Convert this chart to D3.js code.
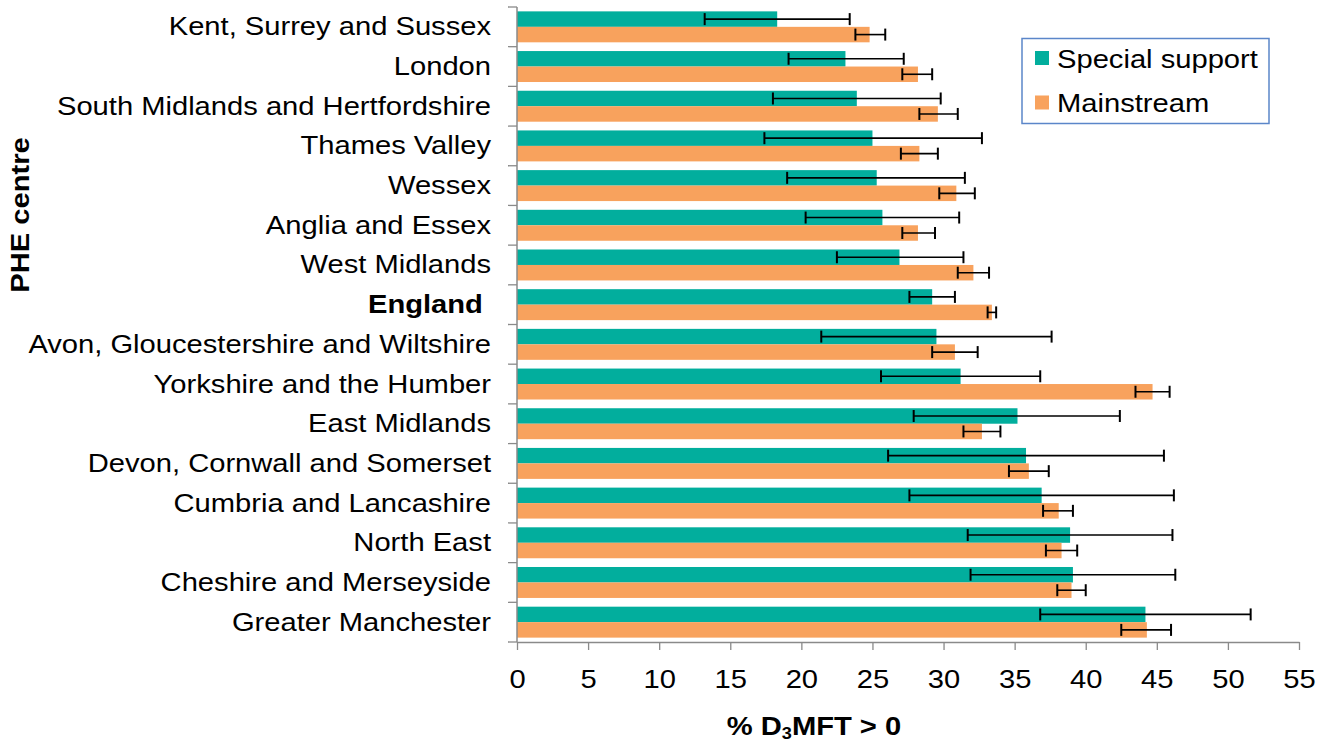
<!DOCTYPE html>
<html><head><meta charset="utf-8">
<script src="https://cdn.jsdelivr.net/npm/d3@7"></script>
<style>
body{margin:0;background:#fff;}
svg{display:block;font-family:"Liberation Sans",Arial,sans-serif;}
</style></head><body>
<svg id="chart" width="1330" height="744"></svg>
<script>
const categories = ["Kent, Surrey and Sussex","London","South Midlands and Hertfordshire","Thames Valley","Wessex","Anglia and Essex","West Midlands","England ","Avon, Gloucestershire and Wiltshire","Yorkshire and the Humber","East Midlands","Devon, Cornwall and Somerset","Cumbria and Lancashire","North East","Cheshire and Merseyside","Greater Manchester"];
const seriesNames = ["Special support","Mainstream"];
const special     = [18.3, 23.1, 23.9, 25.0, 25.3, 25.7, 26.9, 29.2, 29.5, 31.2, 35.2, 35.8, 36.9, 38.9, 39.1, 44.2];
const specialLow  = [13.2, 19.1, 18.0, 17.4, 19.0, 20.3, 22.5, 27.6, 21.4, 25.6, 27.9, 26.1, 27.6, 31.7, 31.9, 36.8];
const specialHigh = [23.4, 27.2, 29.8, 32.7, 31.5, 31.1, 31.4, 30.8, 37.6, 36.8, 42.4, 45.5, 46.2, 46.1, 46.3, 51.6];
const mainstream  = [24.8, 28.2, 29.6, 28.3, 30.9, 28.2, 32.1, 33.4, 30.8, 44.7, 32.7, 36.0, 38.1, 38.3, 39.0, 44.3];
const mainLow     = [23.8, 27.1, 28.3, 27.0, 29.7, 27.1, 31.0, 33.1, 29.2, 43.5, 31.4, 34.6, 37.0, 37.2, 38.0, 42.5];
const mainHigh    = [25.9, 29.2, 31.0, 29.6, 32.2, 29.4, 33.2, 33.7, 32.4, 45.9, 34.0, 37.4, 39.1, 39.4, 40.0, 46.0];
const xTicks = [0,5,10,15,20,25,30,35,40,45,50,55];
const boldCategory = "England ";

const colors = ["#02AE9D", "#F8A25D"];
const axisGray = "#8a8a8a";
const FS = 26.5, SX = 1.1;

const svg = d3.select("#chart");
const x = d3.scaleLinear().domain([0,55]).range([517,1299]);
const y = d3.scaleBand().domain(categories).range([7,642]).paddingInner(0.22).paddingOuter(0.11);
const ySub = d3.scaleBand().domain(seriesNames).range([0, y.bandwidth()]);

const rows = categories.map((c,i)=>({cat:c, vals:[
  {s:seriesNames[0], v:special[i], lo:specialLow[i], hi:specialHigh[i]},
  {s:seriesNames[1], v:mainstream[i], lo:mainLow[i], hi:mainHigh[i]}
]}));

// bars
const g = svg.append("g");
const rowG = g.selectAll("g.row").data(rows).join("g").attr("class","row")
  .attr("transform", d=>`translate(0,${y(d.cat)})`);
rowG.selectAll("rect").data(d=>d.vals).join("rect")
  .attr("x", x(0)).attr("y", d=>ySub(d.s)).attr("height", ySub.bandwidth())
  .attr("width", d=>x(d.v)-x(0)).attr("fill",(d,i)=>colors[i]);

// error bars
const eb = rowG.selectAll("g.eb").data(d=>d.vals).join("g").attr("class","eb")
  .attr("transform", d=>`translate(0,${ySub(d.s)+ySub.bandwidth()/2})`);
eb.append("line").attr("x1",d=>x(d.lo)).attr("x2",d=>x(d.hi)).attr("y1",0).attr("y2",0)
  .attr("stroke","#000").attr("stroke-width",1.6);
eb.append("line").attr("x1",d=>x(d.lo)).attr("x2",d=>x(d.lo)).attr("y1",-6).attr("y2",6)
  .attr("stroke","#000").attr("stroke-width",2);
eb.append("line").attr("x1",d=>x(d.hi)).attr("x2",d=>x(d.hi)).attr("y1",-6).attr("y2",6)
  .attr("stroke","#000").attr("stroke-width",2);

// x axis
const xAxis = svg.append("g").attr("transform",`translate(0,642)`)
  .call(d3.axisBottom(x).tickValues(xTicks).tickSize(8).tickPadding(19).tickSizeOuter(0));
xAxis.select(".domain").attr("stroke",axisGray).attr("stroke-width",1.5);
xAxis.selectAll(".tick line").attr("stroke",axisGray).attr("stroke-width",1.3);
xAxis.selectAll(".tick text").attr("font-size",FS).attr("fill","#000")
  .attr("font-family","'Liberation Sans',Arial,sans-serif")
  .attr("transform",`scale(${SX},1)`).attr("x",0);

// y axis (labels)
const yAxis = svg.append("g").attr("transform",`translate(517,0)`)
  .call(d3.axisLeft(y).tickSize(0).tickPadding(26));
yAxis.select(".domain").remove();
yAxis.selectAll(".tick text").attr("font-size",FS).attr("fill","#000")
  .attr("font-family","'Liberation Sans',Arial,sans-serif")
  .attr("x", -26/SX).attr("transform",`scale(${SX},1)`)
  .style("white-space","pre")
  .attr("font-weight", d=> d===boldCategory ? "bold" : "normal");
// y axis line and boundary ticks
const step = y.step();
const bounds = d3.range(categories.length+1).map(i=> 7 + i*step);
svg.append("line").attr("x1",517).attr("x2",517).attr("y1",7).attr("y2",642)
  .attr("stroke",axisGray).attr("stroke-width",1.5);
svg.append("g").selectAll("line").data(bounds).join("line")
  .attr("x1",508).attr("x2",517).attr("y1",d=>d).attr("y2",d=>d)
  .attr("stroke",axisGray).attr("stroke-width",1.3);

// axis titles
const xt = svg.append("text").attr("transform",`translate(814,735) scale(${SX},1)`)
  .attr("text-anchor","middle").attr("font-size",FS).attr("font-weight","bold");
xt.append("tspan").text("% D");
xt.append("tspan").text("3").attr("font-size",FS*0.62).attr("dy",4);
xt.append("tspan").text("MFT > 0").attr("dy",-4);

svg.append("text").attr("transform",`translate(29,215) rotate(-90) scale(${SX},1)`)
  .attr("text-anchor","middle").attr("font-size",FS).attr("font-weight","bold").text("PHE centre");

// legend
const lg = svg.append("g");
lg.append("rect").attr("x",1022).attr("y",38.5).attr("width",247).attr("height",85)
  .attr("fill","#fff").attr("stroke","#5b86c9").attr("stroke-width",1.5);
seriesNames.forEach((s,i)=>{
  const yy = 58 + i*44.5;
  lg.append("rect").attr("x",1035).attr("y",yy-7).attr("width",14).attr("height",14).attr("fill",colors[i]);
  lg.append("text").attr("transform",`translate(1057,${yy+9.5}) scale(${SX},1)`)
    .attr("font-size",FS).text(s);
});
</script>
</body></html>
